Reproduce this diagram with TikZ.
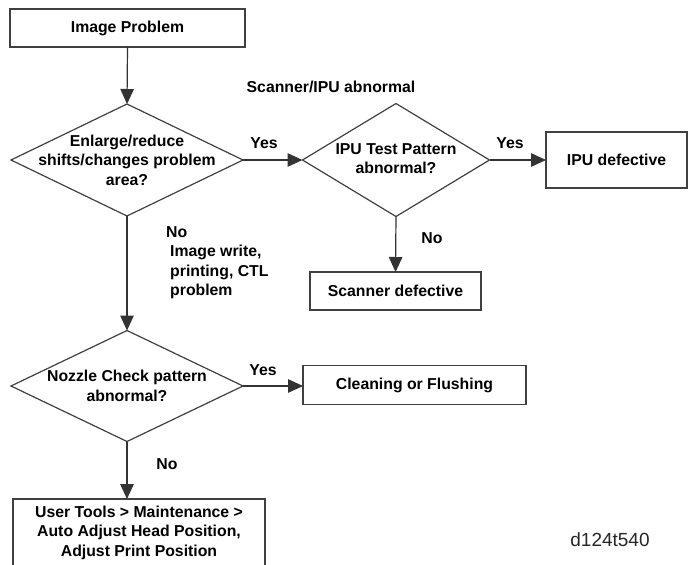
\documentclass[tikz,border=0pt]{standalone}
\usepackage{fontspec}
\setmainfont{Liberation Sans}
\usepackage{tikz}
\usetikzlibrary{calc, shapes.geometric, arrows.meta}

\begin{document}
\begin{tikzpicture}[x=1pt, y=-1pt, >={Triangle[length=15pt,width=13.5pt]},
    txt/.style={font=\fontsize{15.8}{19.5}\selectfont\bfseries, text=black, inner sep=0pt, align=center},
    box/.style={txt, draw=black!75, line width=1.2pt, outer sep=0pt},
    decision/.style={diamond, draw=black!75, line width=1.2pt, inner sep=0pt, outer sep=0pt},
    arr/.style={->, draw=black!80, line width=1.2pt}]
    \useasboundingbox (0,0) rectangle (691,565);

    % boxes
    \node[box, minimum width=235pt, minimum height=38pt] (start) at (127.5,28) {Image Problem};
    \node[box, minimum width=141pt, minimum height=56pt] (ipu) at (616.5,160) {IPU defective};
    \node[box, minimum width=171pt, minimum height=38pt] (scan) at (395.5,291) {Scanner defective};
    \node[box, minimum width=223pt, minimum height=39pt] (clean) at (414.5,385) {Cleaning or Flushing};
    \node[box, minimum width=252pt, minimum height=67pt] (user) at (139,532.5)
        {User Tools > Maintenance >\\Auto Adjust Head Position,\\Adjust Print Position};

    % decisions
    \node[decision, minimum width=232pt, minimum height=112pt,
        label={[txt]center:Enlarge/reduce\\shifts/changes problem\\area?}] (enlarge) at (127,160) {};
    \node[decision, minimum width=187pt, minimum height=113pt,
        label={[txt, yshift=1.5pt]center:IPU Test Pattern\\abnormal?}] (testpat) at (396,160) {};
    \node[decision, minimum width=232pt, minimum height=111pt,
        label={[txt]center:Nozzle Check pattern\\abnormal?}] (nozzle) at (127,386) {};

    % texts
    \node[txt] (scanipu) at (331,87) {Scanner/IPU abnormal};
    \node[txt] (yesA) at (264,143) {Yes};
    \node[txt] (yesB) at (510,143) {Yes};
    \node[txt] (noA) at (432,238) {No};
    \node[txt, anchor=west] (noB) at (166,232) {No};
    \node[txt, align=left, anchor=west] (imgwrite) at (170,272) {Image write,\\printing, CTL\\problem};
    \node[txt] (yesC) at (263,370) {Yes};
    \node[txt] (noC) at (167,464) {No};
    \node[font=\fontsize{19}{22}\selectfont, text=black!85, inner sep=0pt] (figid) at (610,540) {d124t540};

    % arrows
    \draw[arr] (start.south) -- (enlarge.north);
    \draw[arr] (enlarge.east) -- (testpat.west);
    \draw[arr] (testpat.east) -- (ipu.west);
    \draw[arr] (testpat.south) -- (scan.north);
    \draw[arr] (enlarge.south) -- (nozzle.north);
    \draw[arr] (nozzle.east) -- (nozzle.east -| clean.west);
    \draw[arr] (nozzle.south) -- (user.north -| nozzle.south);
\end{tikzpicture}
\end{document}
